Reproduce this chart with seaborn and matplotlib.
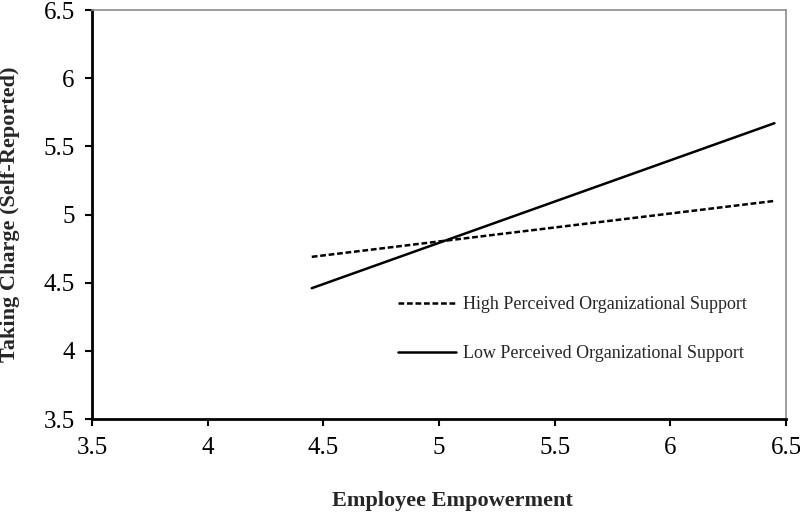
import pandas as pd
import matplotlib
matplotlib.use("Agg")
import matplotlib.pyplot as plt
import seaborn as sns

# Simple slopes: empowerment at -1 SD / +1 SD
empowerment = [4.45, 6.45]
high_pos = [4.69, 5.10]
low_pos = [4.46, 5.67]
groups = ['High Perceived Organizational Support', 'Low Perceived Organizational Support']
ticks = [3.5, 4, 4.5, 5, 5.5, 6, 6.5]
tick_labels = ['3.5', '4', '4.5', '5', '5.5', '6', '6.5']

df = pd.DataFrame({
    'Empowerment': empowerment * 2,
    'Taking Charge': high_pos + low_pos,
    'Group': [groups[0]] * 2 + [groups[1]] * 2,
})

sns.set_theme(style="white")
plt.rcParams['font.family'] = ['Liberation Serif', 'DejaVu Serif']

fig = plt.figure(figsize=(8, 5.13), dpi=100)
ax = fig.add_axes([0.115, 0.183, 0.8675, 0.7975])

sns.lineplot(data=df, x='Empowerment', y='Taking Charge', style='Group',
             hue='Group', palette=['black', 'black'],
             dashes={groups[0]: (2.3, 1.1), groups[1]: ''},
             linewidth=1.8, ax=ax, legend=True)

ax.set_xlim(3.5, 6.5)
ax.set_ylim(3.5, 6.5)
ax.set_xticks(ticks)
ax.set_yticks(ticks)
ax.set_xticklabels(tick_labels)
ax.set_yticklabels(tick_labels)
ax.tick_params(axis='both', direction='out', length=5, width=1.5, labelsize=18,
               colors='black', bottom=True, left=True)
ax.tick_params(axis='x', pad=8)
ax.tick_params(axis='y', pad=7.5)

for side in ['left', 'bottom']:
    ax.spines[side].set_color('black')
    ax.spines[side].set_linewidth(2)
for side in ['top', 'right']:
    ax.spines[side].set_color('#8c8c8c')
    ax.spines[side].set_linewidth(1.2)

ax.set_xlabel('Employee Empowerment', fontsize=16, fontweight='bold')
ax.set_ylabel('Taking Charge (Self-Reported)', fontsize=16, fontweight='bold')
ax.xaxis.set_label_coords(0.519, -0.176)
ax.yaxis.set_label_coords(-0.104, 0.5)

handles, labels = ax.get_legend_handles_labels()
ax.legend(handles, labels, frameon=False, fontsize=13, loc='center left',
          bbox_to_anchor=(0.418, 0.22), handlelength=3.2, handletextpad=0.4,
          labelspacing=1.8)

fig.savefig('out.png', dpi=100)
